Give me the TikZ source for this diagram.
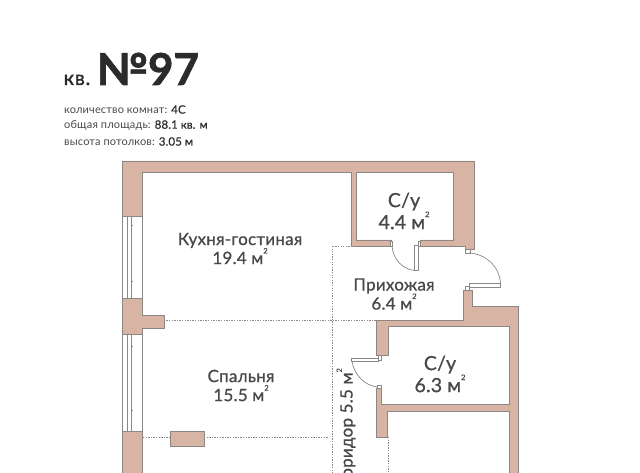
\documentclass[tikz,border=0pt]{standalone}
\usepackage{fontspec}
\setmainfont{Lato}
\newcommand{\sqm}{м\raisebox{0.62em}{\fontsize{7.5}{8}\selectfont 2}}
\definecolor{wallc}{HTML}{D8B4A4}
\definecolor{edgec}{HTML}{8C8785}
\definecolor{inkc}{HTML}{46484A}
\definecolor{darkc}{HTML}{2B2B2B}
\tikzset{
  wall/.style={fill=wallc,draw=edgec,line width=0.9pt,line join=miter},
  pane/.style={draw=edgec,line width=0.8pt},
  doorleaf/.style={draw=edgec,fill=white,line width=0.7pt},
  swing/.style={draw=edgec,line width=0.7pt},
  zone/.style={draw=edgec,line width=0.9pt,dash pattern=on 1.3pt off 1.3pt},
  room/.style={text=inkc,font=\fontsize{17}{19}\selectfont\addfontfeature{LetterSpace=1.5,FakeBold=0.8},align=center,inner sep=0pt},
  wetroom/.style={room,font=\fontsize{19.5}{22}\selectfont\addfontfeature{LetterSpace=1,FakeBold=0.8}},
  info/.style={anchor=west,inner sep=0pt,text=inkc,font=\fontsize{11}{12}\selectfont\addfontfeature{LetterSpace=1.5}}
}
\newcommand{\valtext}[1]{{\color{darkc}\fontsize{11.5}{12}\selectfont\addfontfeature{LetterSpace=1,FakeBold=0.6}#1}}
\begin{document}
\begin{tikzpicture}[x=1pt,y=-1pt]
\useasboundingbox (0,0) rectangle (640,473);
\begin{scope}
\clip (0,0) rectangle (640,473);
% zones
\draw[zone] (143,320) -- (376,320);
\draw[zone] (143,437.7) -- (170,437.7);
\draw[zone] (204,437.7) -- (328,437.7);
\draw[zone] (332.7,246) -- (351.7,246);
\draw[zone] (332.7,246) -- (332.7,473);
\draw[zone] (388,437) -- (388,473);
% windows
\draw[pane] (122.7,216) -- (122.7,298) (127.7,216) -- (127.7,298) (131,216) -- (131,298) (142.7,216) -- (142.7,298);
\draw[pane] (122.7,334) -- (122.7,431) (127.7,334) -- (127.7,431) (131,334) -- (131,431) (142.7,334) -- (142.7,431);
\draw[pane] (131,225) -- (133,225) (131,281.7) -- (133,281.7) (131,346.7) -- (133,346.7) (131,410) -- (133,410);
% walls
\draw[wall] (122,161) -- (474,161) -- (474,249) -- (465,249) -- (465,246) -- (420,246) -- (420,240) -- (453,240) -- (453,172) -- (356.7,172) -- (356.7,240) -- (391.7,240) -- (391.7,246) -- (351.7,246) -- (351.7,172) -- (142.7,172) -- (142.7,216) -- (122,216) -- cycle;
\draw[wall] (122,298) -- (142.7,298) -- (142.7,315) -- (164,315) -- (164,328) -- (142.7,328) -- (142.7,334) -- (122,334) -- cycle;
\draw[wall] (122,431) -- (142.7,431) -- (142.7,480) -- (122,480) -- cycle;
\draw[wall] (170,431.7) rectangle (204,446);
\draw[wall] (463,290) -- (472.7,290) -- (472.7,306) -- (518,306) -- (518,480) -- (509,480) -- (509,411) -- (387.7,411) -- (387.7,437) -- (376,437) -- (376,388) -- (381.7,388) -- (381.7,404) -- (509,404) -- (509,326.7) -- (388,326.7) -- (388,355.7) -- (376.7,355.7) -- (376.7,320) -- (463,320) -- cycle;
% doors
\draw[doorleaf] (414.5,245) rectangle (418.5,270.5);
\draw[swing] (414.5,270.5) .. controls (402,269) and (393,259) .. (392,246);
\draw[doorleaf] (390.5,241) rectangle (392,246);
\draw[doorleaf] (418.5,241) rectangle (420,246);
\draw[doorleaf] (465,249.5) rectangle (470,253);
\draw[doorleaf] (469,283) rectangle (500.5,287);
\draw[swing] (500.5,283) .. controls (499,266) and (486,254) .. (469,253);
\draw[doorleaf] (465,286) rectangle (469,290);
\draw[doorleaf] (351.7,358.5) rectangle (378,361.5);
\draw[swing] (352,361) .. controls (354,375) and (365,386) .. (378,387);
\draw[doorleaf] (378,355.7) rectangle (381.7,360);
\draw[doorleaf] (377,385) rectangle (381.7,388);
% room labels
\node[room] (kitchen) at (240,248.5) {Кухня-гостиная\\19.4 \sqm};
\node[room] (bedroom) at (241,385.5) {Спальня\\15.5 \sqm};
\node[wetroom] (bathA) at (404,211) {С/у\\4.4 \sqm};
\node[room] (hall) at (394,294) {Прихожая\\6.4 \sqm};
\node[wetroom] (bathB) at (440,374) {С/у\\6.3 \sqm};
\node[room,rotate=90,anchor=east] (corridor) at (346,368) {Коридор 5.5 \sqm};
\end{scope}
% title
\node[anchor=base west,inner sep=0pt,text=darkc,font=\fontsize{20}{22}\selectfont\addfontfeature{LetterSpace=4,FakeBold=1.5}] (kv) at (63.5,85) {кв.};
\node[anchor=base west,inner sep=0pt,text=darkc,font=\fontsize{44}{46}\selectfont\bfseries\addfontfeature{FakeBold=1.5}] (num) at (96,85) {№97};
\node[info] (rooms) at (64,109.5) {количество комнат: \valtext{4С}};
\node[info] (area) at (64,125.5) {общая площадь: \valtext{88.1 кв. м}};
\node[info] (height) at (64,141.5) {высота потолков: \valtext{3.05 м}};
\end{tikzpicture}
\end{document}
